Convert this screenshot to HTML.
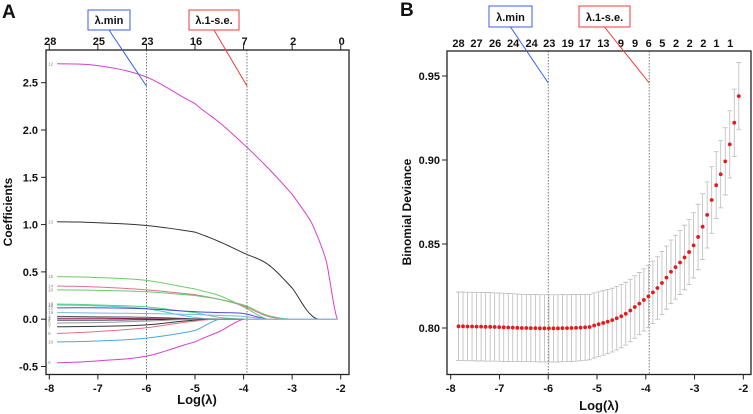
<!DOCTYPE html>
<html><head><meta charset="utf-8">
<style>
html,body{margin:0;padding:0;background:#fff;}
svg{display:block;font-family:"Liberation Sans",Arial,sans-serif;}
.tk{font-size:11px;font-weight:bold;fill:#111;}
</style></head>
<body>
<svg id="chart" width="753" height="414" viewBox="0 0 753 414" xmlns="http://www.w3.org/2000/svg">
<g id="A"></g>
<g id="B"></g>
</svg>
<script>
// ---------- Panel A data ----------
const pathGrid = [-7.84,-7,-6,-5,-4.5,-4,-3.5,-3,-2.6,-2.3,-2.07];
const pathLabels = ["12","13","15","14","20","18","16","22","19","2","3","4","5","7","8","10","6"];
const pathColors = ["#d63fd0","#333333","#6cc96c","#e0708a","#6cc96c","#5ccf7a","#3fd0d0","#4b4bd6","#7ab8e8","#555555","#8b1a4a","#222a55","#999999","#333333","#e0708a","#4aa8e0","#d63fd0"];
const pathValues = [
 [2.70,2.68,2.56,2.28,2.08,1.85,1.60,1.32,1.02,0.62,0],
 [1.03,1.02,0.99,0.92,0.82,0.70,0.58,0.33,0.04,0,0],
 [0.45,0.44,0.41,0.32,0.25,0.13,0,0,0,0,0],
 [0.35,0.34,0.31,0.26,0.21,0.14,0.03,0,0,0,0],
 [0.31,0.305,0.29,0.25,0.21,0.15,0.04,0,0,0,0],
 [0.16,0.15,0.13,0.07,0.02,0,0,0,0,0,0],
 [0.15,0.14,0.11,0.02,0,0,0,0,0,0,0],
 [0.12,0.12,0.11,0.08,0.07,0.06,0,0,0,0,0],
 [0.07,0.065,0.06,0.05,0.04,0.03,0,0,0,0,0],
 [0.03,0.025,0.02,0.005,0,0,0,0,0,0,0],
 [0.01,0.01,0.005,0,0,0,0,0,0,0,0],
 [-0.01,-0.01,-0.005,0,0,0,0,0,0,0,0],
 [-0.04,-0.035,-0.02,0,0,0,0,0,0,0,0],
 [-0.08,-0.075,-0.06,-0.01,0,0,0,0,0,0,0],
 [-0.15,-0.13,-0.09,-0.02,0,0,0,0,0,0,0],
 [-0.24,-0.23,-0.20,-0.12,0,0,0,0,0,0,0],
 [-0.46,-0.44,-0.39,-0.24,-0.13,0,0,0,0,0,0]
];
const aXTicks = [-8,-7,-6,-5,-4,-3,-2];
const aTopLabels = ["28","25","23","16","7","2","0"];
const aYTicks = [-0.5,0,0.5,1,1.5,2,2.5];
const aYTickLabels = ["-0.5","0.0","0.5","1.0","1.5","2.0","2.5"];
const lambdaMin = -6, lambda1se = -3.93;

// ---------- Panel B data ----------
const devX0 = -7.84, devStep = 0.0927;
const devMean = [0.8010,0.8010,0.8009,0.8009,0.8008,0.8008,0.8007,0.8007,0.8006,0.8005,
 0.8004,0.8003,0.8002,0.8001,0.8000,0.8000,0.7999,0.7999,0.7998,0.7998,
 0.7998,0.7998,0.7998,0.7999,0.7999,0.8000,0.8001,0.8002,0.8004,0.8006,
 0.8015,0.8022,0.8030,0.8038,0.8047,0.8058,0.8070,0.8085,0.8104,0.8125,
 0.8145,0.8167,0.8188,0.8212,0.8238,0.8268,0.8300,0.8335,0.8362,0.8390,
 0.8420,0.8452,0.8492,0.8542,0.8603,0.8673,0.8762,0.8850,0.8915,0.8992,
 0.9093,0.9222,0.9380];
const devSE = [0.0204,0.0204,0.0204,0.0204,0.0204,0.0204,0.0204,0.0204,0.0203,0.0203,
 0.0203,0.0202,0.0202,0.0201,0.0201,0.0200,0.0200,0.0200,0.0200,0.0200,
 0.0200,0.0200,0.0200,0.0200,0.0199,0.0199,0.0198,0.0197,0.0196,0.0195,
 0.0194,0.0193,0.0192,0.0191,0.0190,0.0189,0.0188,0.0187,0.0186,0.0186,
 0.0185,0.0185,0.0185,0.0186,0.0186,0.0187,0.0188,0.0189,0.0190,0.0191,
 0.0192,0.0193,0.0194,0.0195,0.0196,0.0197,0.0198,0.0199,0.0200,0.0200,
 0.0200,0.0200,0.0200];
const bXTicks = [-8,-7,-6,-5,-4,-3,-2];
const bYTicks = [0.80,0.85,0.90,0.95];
const bYTickLabels = ["0.80","0.85","0.90","0.95"];
const bTopPos = [-7.84,-7.47,-7.09,-6.72,-6.34,-5.98,-5.60,-5.25,-4.87,-4.51,-4.22,-3.94,-3.66,-3.38,-3.10,-2.82,-2.55,-2.27];
const bTopLabels = ["28","27","26","24","24","23","19","17","13","9","9","6","5","2","2","2","1","1"];

const NS="http://www.w3.org/2000/svg";
function mk(parent,tag,attrs,text){const e=document.createElementNS(NS,tag);for(const k in attrs)e.setAttribute(k,attrs[k]);if(text!==undefined)e.textContent=text;parent.appendChild(e);return e;}

// ---------- Panel A ----------
(function(){
const g=document.getElementById('A');
const L=46,R=349,T=50,Bt=374.5;
const xA=v=>49.3+(v+8)*48.57;
const yA=v=>319.2-v*94.6;
let e;
e=mk(g,'text',{x:2,y:18,'font-size':19,'font-weight':'bold',fill:'#111'},'A');


pathValues.forEach((vals,i)=>{
  let d='';
  for(let k=0;k<pathGrid.length-1;k++){
    const x0=pathGrid[k],x1=pathGrid[k+1],v0=vals[k],v1=vals[k+1];
    const vm1=k>0?vals[k-1]:v0, v2=k+2<vals.length?vals[k+2]:v1;
    for(let s=0;s<=8;s++){
      const t=s/8;
      const t2=t*t,t3=t2*t;
      let v=0.5*((2*v0)+(-vm1+v1)*t+(2*vm1-5*v0+4*v1-v2)*t2+(-vm1+3*v0-3*v1+v2)*t3);
      if(v0===0&&v1===0)v=0;
      if(v0!==0&&v1===0&&Math.sign(v)!==Math.sign(v0)&&Math.sign(v)!==0)v=0;
      const x=x0+(x1-x0)*t;
      d+=(d?'L':'M')+xA(x).toFixed(2)+','+yA(v).toFixed(2);
    }
  }
  const p=mk(g,'path',{d:d,fill:'none',stroke:pathColors[i],'stroke-width':1});
  
  
  const t=mk(g,'text',{x:xA(pathGrid[0])-9,y:yA(vals[0])+1.5,'font-size':4.5,fill:'#888'},pathLabels[i]);
  
  
});
e=mk(g,'line',{x1:xA(-4),x2:xA(-2.07),y1:yA(0),y2:yA(0),stroke:'#8fd0f0','stroke-width':1.2});


[lambdaMin,lambda1se].forEach((v,i)=>{
  const l=mk(g,'line',{x1:xA(v),x2:xA(v),y1:T,y2:Bt,stroke:'#555','stroke-width':0.8,'stroke-dasharray':'1.5,1.5'});
  
  
});
e=mk(g,'rect',{x:L,y:T,width:R-L,height:Bt-T,fill:'none',stroke:'#222','stroke-width':1.3});


aXTicks.forEach((v,i)=>{
  mk(g,'line',{x1:xA(v),x2:xA(v),y1:Bt,y2:Bt+5,stroke:'#222'});
  mk(g,'line',{x1:xA(v),x2:xA(v),y1:T,y2:T-5,stroke:'#222'});
  const t=mk(g,'text',{x:xA(v),y:392,'text-anchor':'middle',class:'tk'},String(v));
  
  
  const u=mk(g,'text',{x:xA(v)+1,y:45,'text-anchor':'middle',class:'tk'},aTopLabels[i]);
  
  
});
aYTicks.forEach((v,i)=>{
  mk(g,'line',{x1:L-5,x2:L,y1:yA(v),y2:yA(v),stroke:'#222'});
  const t=mk(g,'text',{x:L-8,y:yA(v)+4,'text-anchor':'end',class:'tk'},aYTickLabels[i]);
  
  
});
e=mk(g,'text',{x:197,y:404,'text-anchor':'middle','font-size':13,'font-weight':'bold',fill:'#111'},'Log(λ)');


e=mk(g,'text',{x:0,y:0,'text-anchor':'middle','font-size':12,'font-weight':'bold',fill:'#111',transform:'translate(12,212) rotate(-90)'},'Coefficients');


function ann(x,w,txt,col,xv,name){
  const gg=mk(g,'g',{});
  
  
  mk(gg,'line',{x1:x+w/2,y1:30,x2:xA(xv),y2:86,stroke:col,'stroke-width':1});
  mk(gg,'rect',{x:x,y:10,width:w,height:20,fill:'#fff',stroke:col,'stroke-width':1});
  mk(gg,'text',{x:x+w/2,y:24,'text-anchor':'middle','font-size':11,'font-weight':'bold',fill:'#111'},txt);
}
ann(88,42,'λ.min','#3a5cf0',lambdaMin,'a-lambda-min-annotation');
ann(189,50,'λ.1-s.e.','#f03a3a',lambda1se,'a-lambda-1se-annotation');
})();

// ---------- Panel B ----------
(function(){
const g=document.getElementById('B');
const L=447,R=751,T=51,Bt=374.5;
const xB=v=>450.7+(v+8)*48.77;
const yB=v=>328-(v-0.80)*1680;
let e;
e=mk(g,'text',{x:400,y:16,'font-size':19,'font-weight':'bold',fill:'#111'},'B');


[lambdaMin,lambda1se].forEach((v,i)=>{
  const l=mk(g,'line',{x1:xB(v),x2:xB(v),y1:T,y2:Bt,stroke:'#555','stroke-width':0.8,'stroke-dasharray':'1.5,1.5'});
  
  
});
devMean.forEach((m,i)=>{
  const x=xB(devX0+i*devStep);
  const hi=yB(m+devSE[i]),lo=yB(m-devSE[i]);
  const eb=mk(g,'path',{d:`M${x},${hi}L${x},${lo}M${x-2.5},${hi}L${x+2.5},${hi}M${x-2.5},${lo}L${x+2.5},${lo}`,stroke:'#bbb','stroke-width':0.8,fill:'none'});
  
  
});
devMean.forEach((m,i)=>{
  const c=mk(g,'circle',{cx:xB(devX0+i*devStep),cy:yB(m),r:1.9,fill:'#e8191c'});
  
  
});
e=mk(g,'rect',{x:L,y:T,width:R-L,height:Bt-T,fill:'none',stroke:'#222','stroke-width':1.3});


bXTicks.forEach(v=>{
  mk(g,'line',{x1:xB(v),x2:xB(v),y1:Bt,y2:Bt+5,stroke:'#222'});
  const t=mk(g,'text',{x:xB(v),y:392,'text-anchor':'middle',class:'tk'},String(v));
  
  
});
bTopPos.forEach((v,i)=>{
  const t=mk(g,'text',{x:xB(v),y:47,'text-anchor':'middle',class:'tk'},bTopLabels[i]);
  
  
});
bYTicks.forEach((v,i)=>{
  mk(g,'line',{x1:L-5,x2:L,y1:yB(v),y2:yB(v),stroke:'#222'});
  const t=mk(g,'text',{x:L-7,y:yB(v)+4,'text-anchor':'end',class:'tk'},bYTickLabels[i]);
  
  
});
e=mk(g,'text',{x:599,y:410,'text-anchor':'middle','font-size':13,'font-weight':'bold',fill:'#111'},'Log(λ)');


e=mk(g,'text',{x:0,y:0,'text-anchor':'middle','font-size':12,'font-weight':'bold',fill:'#111',transform:'translate(411,212) rotate(-90)'},'Binomial Deviance');


function ann(x,w,txt,col,xv,name){
  const gg=mk(g,'g',{});
  
  
  mk(gg,'line',{x1:x+w*0.5,y1:27,x2:xB(xv),y2:83,stroke:col,'stroke-width':1});
  mk(gg,'rect',{x:x,y:6,width:w,height:21,fill:'#fff',stroke:col,'stroke-width':1});
  mk(gg,'text',{x:x+w/2,y:21,'text-anchor':'middle','font-size':11,'font-weight':'bold',fill:'#111'},txt);
}
ann(489,43,'λ.min','#3a5cf0',lambdaMin,'b-lambda-min-annotation');
ann(579,51,'λ.1-s.e.','#f03a3a',lambda1se,'b-lambda-1se-annotation');
})();
</script>
</body></html>
